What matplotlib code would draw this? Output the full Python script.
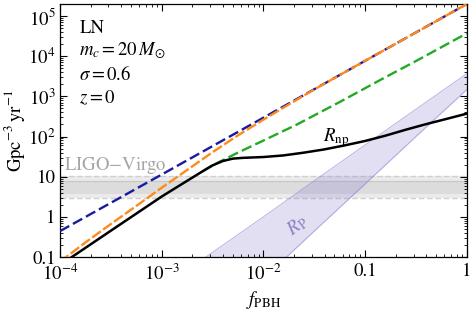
import numpy as np
import matplotlib
matplotlib.use('Agg')
import matplotlib.pyplot as plt
from matplotlib.ticker import FixedLocator, LogLocator, NullFormatter

plt.rcParams['font.family'] = ['STIXGeneral', 'DejaVu Serif']
plt.rcParams['mathtext.fontset'] = 'stix'

# ---------------- data ----------------
f_blue = [1e-4, 1e-3, 1e-2, 1e-1, 1.0]
R_blue = [0.44, 11.3, 295, 7.7e3, 2.0e5]

f_orange = [1e-4, 1.78e-4, 3.16e-4, 5.62e-4, 1e-3, 1.78e-3, 3.16e-3, 5.62e-3,
            1e-2, 1.78e-2, 3.16e-2, 0.1, 0.316, 1.0]
R_orange = [0.076, 0.23, 0.66, 1.86, 5.3, 14.7, 40.7, 107,
            263, 630, 1.49e3, 7.7e3, 3.9e4, 2.0e5]

f_green = [2.51e-3, 3.16e-3, 3.98e-3, 5.62e-3, 1e-2, 2.14e-2, 5.62e-2, 0.151, 0.316, 1.0]
R_green = [13.5, 19.1, 25.7, 39.8, 79.4, 200, 724, 2.82e3, 7.59e3, 3.72e4]

f_np = [1e-4, 3.16e-4, 1e-3, 1.78e-3, 2.51e-3, 3.16e-3, 3.98e-3, 5.01e-3, 6.31e-3,
        1e-2, 1.58e-2, 2.51e-2, 3.98e-2, 6.31e-2, 0.1, 0.158, 0.251, 0.398, 0.631, 1.0]
R_np = [0.063, 0.45, 3.2, 7.9, 13.5, 19.1, 24.5, 28.2, 29.5,
        30.9, 33.9, 39.8, 47.9, 60.3, 77.6, 105, 148, 204, 275, 372]

f_p = [2.0e-3, 1e-2, 3.16e-2, 0.1, 0.316, 1.0]
R_p_upper = [0.058, 1.0, 7.9, 62, 479, 3.7e3]
R_p_lower = [6.3e-4, 0.029, 0.44, 6.6, 100, 1.48e3]

ligo_outer = [2.9, 10.6]
ligo_inner = [3.8, 7.9]

xticks = [1e-4, 1e-3, 1e-2, 1e-1, 1.0]
xticklabels = ['$10^{-4}$', '$10^{-3}$', '$10^{-2}$', '0.1', '1']
yticks = [0.1, 1, 10, 1e2, 1e3, 1e4, 1e5]
yticklabels = ['0.1', '1', '10', '$10^{2}$', '$10^{3}$', '$10^{4}$', '$10^{5}$']

# ---------------- figure ----------------
fig = plt.figure(figsize=(4.72, 3.10), dpi=100)
ax = fig.add_axes([0.127, 0.171, 0.862, 0.816])
ax.set_xscale('log')
ax.set_yscale('log')
ax.set_xlim(1e-4, 1.0)
ax.set_ylim(0.1, 2.0e5)

# LIGO-Virgo band
ax.axhspan(ligo_outer[0], ligo_outer[1], color='#ebebeb', lw=0, zorder=0)
ax.axhspan(ligo_inner[0], ligo_inner[1], color='#dcdcdc', lw=0, zorder=0)
for v in ligo_outer:
    ax.axhline(v, color='#cfcfcf', lw=1.0, ls=(0, (4, 2)), zorder=0.5)
ax.axhline(ligo_inner[1], color='#c8c8c8', lw=0.9, zorder=0.5)
ax.text(1.1e-4, 18.5, 'LIGO$-$Virgo', color='#a6a6a6', fontsize=13.5,
        ha='left', va='center')

# R_P band
pcol = (0.55, 0.5, 0.82)
ax.fill_between(f_p, R_p_lower, R_p_upper, color=pcol, alpha=0.25, lw=0, zorder=1)
ax.plot(f_p, R_p_upper, color=pcol, alpha=0.6, lw=0.7, zorder=1.1)
ax.plot(f_p, R_p_lower, color=pcol, alpha=0.6, lw=0.7, zorder=1.1)
ax.text(0.0215, 0.62, r'$R_{\mathrm{P}}$', color='#8a83c4', fontsize=14,
        rotation=38, ha='center', va='center')

# lines
ax.plot(f_blue, R_blue, color='#1a1aa0', lw=1.7, ls=(0, (4.5, 1.8)), zorder=3)
ax.plot(f_orange, R_orange, color='#ff8a1c', lw=1.7, ls=(0, (4.5, 1.2)), zorder=3.2)
ax.plot(f_green, R_green, color='#22aa22', lw=1.7, ls=(0, (4.5, 1.8)), zorder=3)
ax.plot(f_np, R_np, color='black', lw=1.8, zorder=4)
ax.text(0.052, 96, r'$R_{\mathrm{np}}$', color='black', fontsize=13.5,
        ha='center', va='center')

# annotation text
tx = 0.048
for i, s in enumerate(['LN', r'$m_c = 20\,M_{\odot}$', r'$\sigma = 0.6$', r'$z = 0$']):
    ax.text(tx, 1 - 0.095 - i * 0.092, s, transform=ax.transAxes, fontsize=13.5,
            ha='left', va='center')

# ticks
ax.xaxis.set_major_locator(FixedLocator(xticks))
ax.set_xticklabels(xticklabels)
ax.yaxis.set_major_locator(FixedLocator(yticks))
ax.set_yticklabels(yticklabels)
ax.xaxis.set_minor_locator(LogLocator(base=10, subs=np.arange(2, 10), numticks=20))
ax.yaxis.set_minor_locator(LogLocator(base=10, subs=np.arange(2, 10), numticks=20))
ax.xaxis.set_minor_formatter(NullFormatter())
ax.yaxis.set_minor_formatter(NullFormatter())
ax.tick_params(which='both', direction='in', top=True, right=True, labelsize=13.5)
ax.tick_params(which='major', length=5, width=0.8)
ax.tick_params(which='minor', length=2.5, width=0.6)
ax.tick_params(axis='y', which='major', pad=3)
ax.tick_params(axis='x', which='major', pad=4.5)
for s in ax.spines.values():
    s.set_linewidth(0.9)

ax.set_xlabel(r'$f_{\mathrm{PBH}}$', fontsize=13.5, labelpad=4)
ax.set_ylabel(r'Gpc$^{-3}\,$yr$^{-1}$', fontsize=13.5, labelpad=1)

fig.savefig('out.png', dpi=100)
